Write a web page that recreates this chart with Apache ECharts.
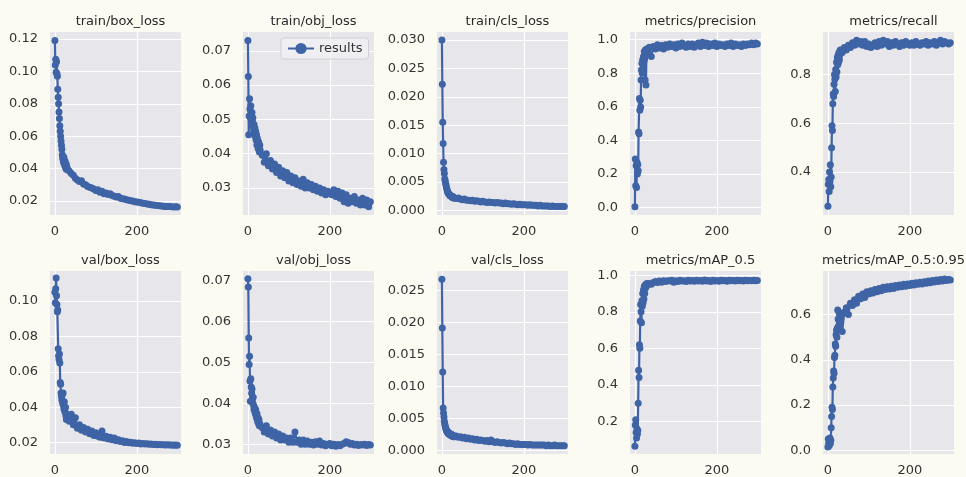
<!DOCTYPE html>
<html>
<head>
<meta charset="utf-8">
<script src="https://cdn.jsdelivr.net/npm/echarts@6/dist/echarts.min.js"></script>
<style>
  html, body { margin: 0; background: #fbfbf1; }
  #main { width: 966px; height: 477px; }
</style>
</head>
<body>
<div id="main"></div>
<script>
// epochs (every epoch early on, then every 5th)
var epochs = [0,1,2,3,4,5,6,7,8,9,10,11,12,13,14,15,16,17,18,19,20,21,22,23,24,25,26,27,28,29,
  30,35,40,45,50,55,60,65,70,75,80,85,90,95,100,105,110,115,120,125,130,135,140,145,150,155,160,165,170,175,
  180,185,190,195,200,205,210,215,220,225,230,235,240,245,250,255,260,265,270,275,280,285,290,295,299];

var trainBox = [0.1190,0.1040,0.1075,0.0995,0.1060,0.0985,0.0970,0.0890,0.0840,0.0800,0.0750,0.0710,0.0665,0.0630,0.0600,
  0.0570,0.0545,0.0520,0.0485,0.0465,0.0455,0.0440,0.0470,0.0430,0.0420,0.0445,0.0410,0.0400,0.0425,0.0395,
  0.0405,0.0385,0.0370,0.0360,0.0340,0.0330,0.0320,0.0325,0.0305,0.0300,0.0290,0.0285,0.0280,0.0275,0.0265,
  0.0270,0.0255,0.0260,0.0245,0.0250,0.0240,0.0245,0.0235,0.0230,0.0225,0.0228,0.0218,0.0215,0.0212,0.0208,
  0.0205,0.0202,0.0200,0.0196,0.0194,0.0192,0.0190,0.0187,0.0185,0.0182,0.0180,0.0178,0.0176,0.0174,0.0172,
  0.0171,0.0170,0.0168,0.0167,0.0166,0.0166,0.0165,0.0164,0.0165,0.0164];
var trainObj = [0.0730,0.0625,0.0455,0.0510,0.0560,0.0530,0.0505,0.0540,0.0515,0.0500,0.0520,0.0495,0.0505,0.0480,0.0470,
  0.0485,0.0460,0.0475,0.0450,0.0465,0.0440,0.0455,0.0425,0.0445,0.0430,0.0415,0.0435,0.0420,0.0405,0.0425,
  0.0410,0.0395,0.0375,0.0400,0.0365,0.0380,0.0355,0.0370,0.0345,0.0360,0.0335,0.0350,0.0330,0.0345,0.0320,
  0.0335,0.0315,0.0330,0.0310,0.0320,0.0305,0.0325,0.0300,0.0315,0.0300,0.0310,0.0295,0.0305,0.0290,0.0300,
  0.0285,0.0295,0.0280,0.0290,0.0285,0.0280,0.0295,0.0275,0.0290,0.0270,0.0285,0.0260,0.0280,0.0255,0.0270,
  0.0260,0.0275,0.0255,0.0265,0.0250,0.0270,0.0250,0.0265,0.0245,0.0260];
var trainCls = [0.0300,0.0222,0.0155,0.0118,0.0085,0.0072,0.0065,0.0056,0.0052,0.0048,0.0045,0.0041,0.0038,0.0035,0.0033,
  0.0031,0.0030,0.0029,0.0028,0.0027,0.0026,0.0026,0.0025,0.0025,0.0024,0.0025,0.0023,0.0024,0.0022,0.0023,
  0.0022,0.0021,0.0022,0.0020,0.0019,0.0020,0.0018,0.0018,0.0017,0.0018,0.0016,0.0017,0.0016,0.0015,0.0016,
  0.0015,0.0014,0.0015,0.0014,0.0014,0.0013,0.0014,0.0013,0.0013,0.0012,0.0013,0.0012,0.0012,0.0011,0.0012,
  0.0011,0.0010,0.0011,0.0010,0.0010,0.0010,0.0009,0.0010,0.0009,0.0009,0.0009,0.0008,0.0009,0.0008,0.0008,
  0.0008,0.0008,0.0007,0.0008,0.0007,0.0007,0.0007,0.0007,0.0007,0.0007];
var precision = [0.005,0.290,0.130,0.250,0.120,0.270,0.200,0.255,0.220,0.450,0.440,0.650,0.580,0.640,0.600,
  0.760,0.820,0.860,0.800,0.880,0.830,0.900,0.870,0.930,0.890,0.760,0.940,0.730,0.910,0.945,
  0.930,0.955,0.900,0.960,0.945,0.970,0.950,0.965,0.945,0.970,0.955,0.975,0.960,0.970,0.950,
  0.975,0.960,0.980,0.965,0.955,0.975,0.960,0.975,0.955,0.970,0.980,0.960,0.985,0.965,0.980,
  0.960,0.975,0.965,0.980,0.960,0.975,0.965,0.970,0.960,0.975,0.965,0.980,0.960,0.975,0.965,
  0.970,0.960,0.975,0.965,0.975,0.970,0.980,0.970,0.980,0.975];
var recall = [0.260,0.350,0.370,0.320,0.400,0.360,0.430,0.340,0.380,0.500,0.590,0.570,0.680,0.720,0.710,
  0.760,0.800,0.780,0.730,0.820,0.790,0.850,0.810,0.870,0.840,0.880,0.850,0.890,0.860,0.880,
  0.900,0.890,0.910,0.900,0.920,0.910,0.930,0.920,0.940,0.925,0.935,0.920,0.935,0.915,0.925,
  0.910,0.920,0.930,0.915,0.935,0.920,0.940,0.925,0.935,0.915,0.930,0.920,0.935,0.925,0.915,
  0.930,0.920,0.935,0.925,0.920,0.930,0.920,0.935,0.925,0.920,0.930,0.925,0.935,0.920,0.930,
  0.925,0.935,0.920,0.930,0.940,0.925,0.935,0.930,0.925,0.930];
var valBox = [0.1050,0.0990,0.1070,0.1130,0.1030,0.0980,0.0940,0.0950,0.0730,0.0690,0.0670,0.0700,0.0650,0.0540,0.0530,
  0.0480,0.0460,0.0440,0.0470,0.0420,0.0480,0.0410,0.0390,0.0430,0.0380,0.0370,0.0400,0.0350,0.0330,0.0360,
  0.0340,0.0320,0.0360,0.0300,0.0340,0.0280,0.0300,0.0270,0.0285,0.0260,0.0275,0.0250,0.0265,0.0240,0.0255,
  0.0235,0.0230,0.0265,0.0225,0.0235,0.0220,0.0230,0.0215,0.0225,0.0210,0.0215,0.0205,0.0210,0.0200,0.0205,
  0.0198,0.0202,0.0196,0.0199,0.0194,0.0197,0.0192,0.0195,0.0191,0.0193,0.0190,0.0192,0.0189,0.0190,0.0188,
  0.0189,0.0187,0.0188,0.0186,0.0187,0.0186,0.0186,0.0185,0.0186,0.0185];
var valObj = [0.0705,0.0685,0.0560,0.0495,0.0515,0.0455,0.0405,0.0460,0.0440,0.0425,0.0435,0.0410,0.0400,0.0415,0.0395,
  0.0385,0.0390,0.0380,0.0375,0.0385,0.0370,0.0365,0.0375,0.0360,0.0355,0.0365,0.0350,0.0360,0.0345,0.0350,
  0.0345,0.0340,0.0330,0.0345,0.0325,0.0335,0.0320,0.0330,0.0315,0.0325,0.0310,0.0320,0.0310,0.0315,0.0305,
  0.0315,0.0305,0.0330,0.0305,0.0310,0.0300,0.0310,0.0300,0.0308,0.0300,0.0305,0.0298,0.0306,0.0300,0.0308,
  0.0298,0.0302,0.0296,0.0300,0.0302,0.0296,0.0300,0.0295,0.0299,0.0296,0.0300,0.0302,0.0306,0.0304,0.0300,
  0.0302,0.0298,0.0300,0.0297,0.0299,0.0298,0.0300,0.0297,0.0299,0.0298];
var valCls = [0.0267,0.0191,0.0122,0.0066,0.0058,0.0052,0.0045,0.0041,0.0038,0.0035,0.0033,0.0031,0.0030,0.0028,0.0029,
  0.0027,0.0026,0.0027,0.0025,0.0026,0.0024,0.0025,0.0023,0.0025,0.0022,0.0024,0.0022,0.0023,0.0021,0.0022,
  0.0021,0.0022,0.0020,0.0021,0.0019,0.0020,0.0018,0.0019,0.0017,0.0018,0.0016,0.0017,0.0015,0.0016,0.0015,
  0.0014,0.0015,0.0013,0.0016,0.0013,0.0012,0.0013,0.0012,0.0011,0.0012,0.0011,0.0010,0.0011,0.0010,0.0010,
  0.0009,0.0010,0.0009,0.0009,0.0009,0.0009,0.0008,0.0009,0.0008,0.0008,0.0008,0.0008,0.0008,0.0008,0.0008,
  0.0007,0.0008,0.0007,0.0007,0.0008,0.0007,0.0007,0.0007,0.0007,0.0007];
var map50 = [0.065,0.180,0.210,0.140,0.110,0.160,0.130,0.150,0.300,0.480,0.440,0.620,0.600,0.750,0.840,
  0.800,0.740,0.860,0.830,0.900,0.850,0.920,0.870,0.940,0.900,0.945,0.930,0.950,0.940,0.955,
  0.945,0.955,0.950,0.960,0.965,0.960,0.968,0.962,0.970,0.965,0.970,0.968,0.972,0.962,0.970,
  0.966,0.972,0.968,0.970,0.966,0.972,0.968,0.971,0.967,0.973,0.968,0.971,0.967,0.974,0.968,
  0.971,0.966,0.972,0.968,0.971,0.967,0.972,0.969,0.971,0.967,0.972,0.969,0.971,0.968,0.972,
  0.969,0.971,0.968,0.972,0.969,0.971,0.969,0.972,0.970,0.971];
var map5095 = [0.015,0.050,0.030,0.020,0.040,0.055,0.030,0.045,0.100,0.150,0.190,0.180,0.280,0.320,0.350,
  0.340,0.410,0.420,0.470,0.460,0.510,0.530,0.500,0.540,0.620,0.580,0.550,0.610,0.570,0.600,
  0.580,0.525,0.610,0.630,0.600,0.650,0.640,0.665,0.650,0.680,0.670,0.690,0.675,0.700,0.690,
  0.705,0.695,0.710,0.700,0.715,0.705,0.720,0.710,0.722,0.712,0.725,0.715,0.728,0.720,0.730,
  0.722,0.733,0.725,0.735,0.728,0.738,0.730,0.740,0.733,0.742,0.735,0.745,0.738,0.748,0.740,
  0.750,0.743,0.752,0.746,0.755,0.748,0.757,0.750,0.755,0.752];

var titles = ['train/box_loss','train/obj_loss','train/cls_loss','metrics/precision','metrics/recall',
  'val/box_loss','val/obj_loss','val/cls_loss','metrics/mAP_0.5','metrics/mAP_0.5:0.95'];
var seriesData = [trainBox, trainObj, trainCls, precision, recall, valBox, valObj, valCls, map50, map5095];
var yTicks = [
  [0.02,0.04,0.06,0.08,0.10,0.12],
  [0.03,0.04,0.05,0.06,0.07],
  [0.000,0.005,0.010,0.015,0.020,0.025,0.030],
  [0.0,0.2,0.4,0.6,0.8,1.0],
  [0.4,0.6,0.8],
  [0.02,0.04,0.06,0.08,0.10],
  [0.03,0.04,0.05,0.06,0.07],
  [0.000,0.005,0.010,0.015,0.020,0.025],
  [0.2,0.4,0.6,0.8,1.0],
  [0.0,0.2,0.4,0.6]
];
var yDecimals = [2,2,3,1,1,2,2,3,1,1];
var yMin = [0.0114,0.0221,-0.0008,-0.044,0.224,0.0135,0.0276,-0.0006,0.022,-0.016];
var yMax = [0.1243,0.0755,0.0314,1.046,0.974,0.117,0.0724,0.028,1.023,0.792];
var xTicks = [0, 200];

var colLeft = [50, 243, 437, 630, 823];
var rowTop = [32, 271];
var plotW = 131, plotH = 183;
var lineColor = '#3e64a6';

function buildOption(styledLegend) {
  var grids = [], xAxes = [], yAxes = [], series = [], titleList = [];
  for (var i = 0; i < 10; i++) {
    var left = colLeft[i % 5], top = rowTop[Math.floor(i / 5)];
    grids.push({left: left, top: top, width: plotW, height: plotH,
      show: true, backgroundColor: 'rgba(226,226,234,0.8)', borderWidth: 0});
    titleList.push({
      text: titles[i], left: left + plotW / 2, top: top - 22, textAlign: 'center',
      textStyle: {fontFamily: 'DejaVu Sans', fontSize: 13, fontWeight: 'normal', color: '#2a2a2a'}
    });
    xAxes.push({
      gridIndex: i, type: 'value', min: -12, max: 308,
      axisLine: {show: false},
      axisTick: {show: false, customValues: xTicks},
      axisLabel: {customValues: xTicks, margin: 10, fontFamily: 'DejaVu Sans', fontSize: 13, color: '#333'},
      splitLine: {show: true, lineStyle: {color: '#ffffff', width: 1.2}}
    });
    var ya = {
      gridIndex: i, type: 'value', min: yMin[i], max: yMax[i],
      axisLine: {show: false},
      axisTick: {show: false, customValues: yTicks[i]},
      axisLabel: {customValues: yTicks[i], margin: 12, fontFamily: 'DejaVu Sans', fontSize: 13, color: '#333'},
      splitLine: {show: true, lineStyle: {color: '#ffffff', width: 1.2}}
    };
    (function (d) { ya.axisLabel.formatter = function (v) { return v.toFixed(d); }; })(yDecimals[i]);
    yAxes.push(ya);
    var src = seriesData[i];
    series.push({
      name: 'results', type: 'line', xAxisIndex: i, yAxisIndex: i,
      data: epochs.map(function (e, k) { return [e, src[k]]; }),
      symbol: 'circle', symbolSize: 7,
      lineStyle: {color: lineColor, width: 2.2},
      itemStyle: {color: lineColor},
      animation: false
    });
  }
  var legend = {data: ['results'], left: 281, top: 38};
  if (styledLegend) {
    legend = {data: ['results'], left: 281, top: 38,
      backgroundColor: 'rgba(240,240,244,0.85)', borderColor: '#d0d0d0', borderWidth: 1, borderRadius: 3,
      padding: [4, 6, 4, 6], itemWidth: 26, textStyle: {fontFamily: 'DejaVu Sans', fontSize: 13, color: '#333'}};
  }
  return {backgroundColor: '#fbfbf1', title: titleList, legend: legend,
    grid: grids, xAxis: xAxes, yAxis: yAxes, series: series};
}

var dom = document.getElementById('main');
var chart = echarts.init(dom);
try {
  chart.setOption(buildOption(true));
} catch (e) {
  // a failed setOption leaves the instance unusable, so start over with a fresh one
  try { chart.dispose(); } catch (e2) {}
  chart = echarts.init(dom);
  chart.setOption(buildOption(false));
}
</script>
</body>
</html>
